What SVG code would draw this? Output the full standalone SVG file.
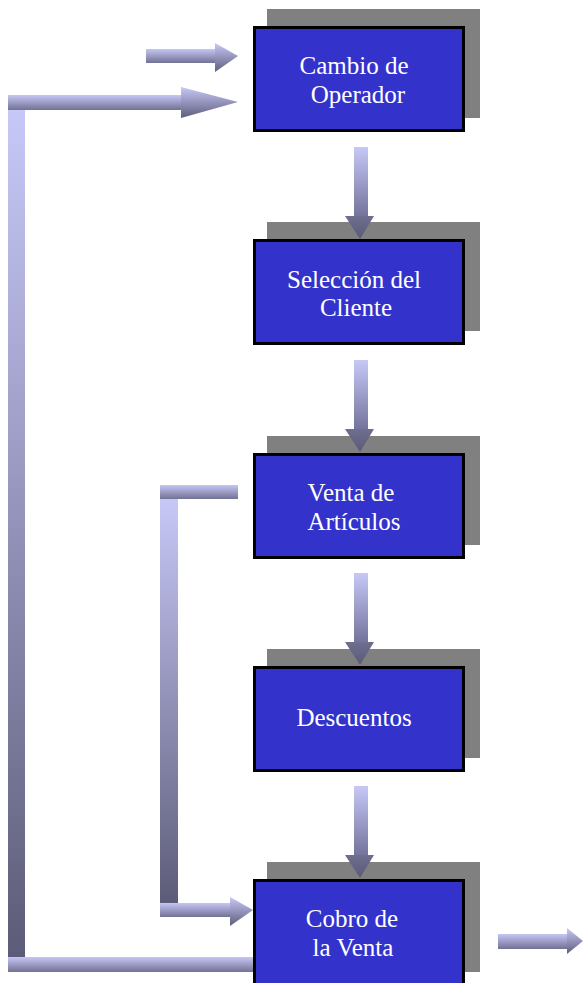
<svg xmlns="http://www.w3.org/2000/svg" width="583" height="983" viewBox="0 0 583 983">
<style>
.shadow{fill:#808080}
.box{fill:#3333CC;stroke:#000;stroke-width:3}
.lbl{font-family:"Liberation Serif","Times New Roman",serif;font-size:25px;fill:#fff;text-anchor:middle}
.hs{fill:url(#gh)}
.hh{fill:url(#ghh)}
.vs{fill:url(#gv)}
.vh{fill:url(#gvh)}
</style>
<defs>
<linearGradient id="gh" x1="0" y1="0" x2="0" y2="1">
<stop offset="0" stop-color="#C6C6F6"/><stop offset="1" stop-color="#727294"/>
</linearGradient>
<linearGradient id="ghh" x1="0" y1="0" x2="0" y2="1">
<stop offset="0" stop-color="#C8C8F8"/><stop offset="1" stop-color="#5E5E7C"/>
</linearGradient>
<linearGradient id="gv" x1="0" y1="0" x2="0" y2="1">
<stop offset="0" stop-color="#C8C8F8"/><stop offset="1" stop-color="#72729A"/>
</linearGradient>
<linearGradient id="gvh" x1="0" y1="0" x2="0" y2="1">
<stop offset="0" stop-color="#6E6E90"/><stop offset="1" stop-color="#5A5A78"/>
</linearGradient>
<linearGradient id="gbar" x1="0" y1="0" x2="0" y2="1">
<stop offset="0" stop-color="#C8C8F8"/><stop offset="1" stop-color="#5C5C78"/>
</linearGradient>
</defs>

<g id="node-cambio">
<rect class="shadow" x="267" y="9" width="213" height="109"/>
<rect class="box" x="254.5" y="27.5" width="209" height="103"/>
<text class="lbl" x="354" y="74">Cambio de</text>
<text class="lbl" x="358" y="103">Operador</text>
</g>
<g id="node-seleccion">
<rect class="shadow" x="267" y="222" width="213" height="109"/>
<rect class="box" x="254.5" y="240.5" width="209" height="103"/>
<text class="lbl" x="354" y="288">Selección del</text>
<text class="lbl" x="356" y="316">Cliente</text>
</g>
<g id="node-venta">
<rect class="shadow" x="267" y="436" width="213" height="109"/>
<rect class="box" x="254.5" y="454.5" width="209" height="103"/>
<text class="lbl" x="351" y="501">Venta de</text>
<text class="lbl" x="354" y="530">Artículos</text>
</g>
<g id="node-descuentos">
<rect class="shadow" x="267" y="649" width="213" height="109"/>
<rect class="box" x="254.5" y="667.5" width="209" height="103"/>
<text class="lbl" x="354" y="726">Descuentos</text>
</g>
<g id="node-cobro">
<rect class="shadow" x="267" y="862" width="213" height="110"/>
<rect class="box" x="254.5" y="880.5" width="209" height="105"/>
<text class="lbl" x="352" y="927">Cobro de</text>
<text class="lbl" x="353" y="956">la Venta</text>
</g>

<g id="connectors">
<!-- input arrow -->
<rect class="hs" x="146" y="49" width="70" height="14"/>
<polygon class="hh" points="215,43 238,56 215,72"/>
<!-- outer loop -->
<rect fill="url(#gbar)" x="8" y="110" width="17" height="847"/>
<rect class="hs" x="8" y="95" width="174" height="15"/>
<polygon class="hh" points="181,87 238,102 181,118"/>
<rect class="hs" x="8" y="957" width="245" height="15"/>
<!-- inner loop -->
<rect class="hs" x="160" y="485" width="78" height="14"/>
<rect fill="url(#gbar)" x="160" y="499" width="18" height="404"/>
<rect class="hs" x="160" y="903" width="71" height="14"/>
<polygon class="hh" points="230,897 253,910 230,926"/>
<!-- output arrow -->
<rect class="hs" x="498" y="934" width="70" height="15"/>
<polygon class="hh" points="567,928 583,941 567,954"/>
<!-- vertical arrows -->
<rect class="vs" x="354" y="147" width="14" height="70"/>
<polygon class="vh" points="345,216 374,216 360,239"/>
<rect class="vs" x="354" y="360" width="14" height="70"/>
<polygon class="vh" points="345,429 374,429 360,452"/>
<rect class="vs" x="354" y="573" width="14" height="70"/>
<polygon class="vh" points="345,642 374,642 360,665"/>
<rect class="vs" x="354" y="786" width="14" height="70"/>
<polygon class="vh" points="345,855 374,855 360,878"/>
</g>
</svg>
